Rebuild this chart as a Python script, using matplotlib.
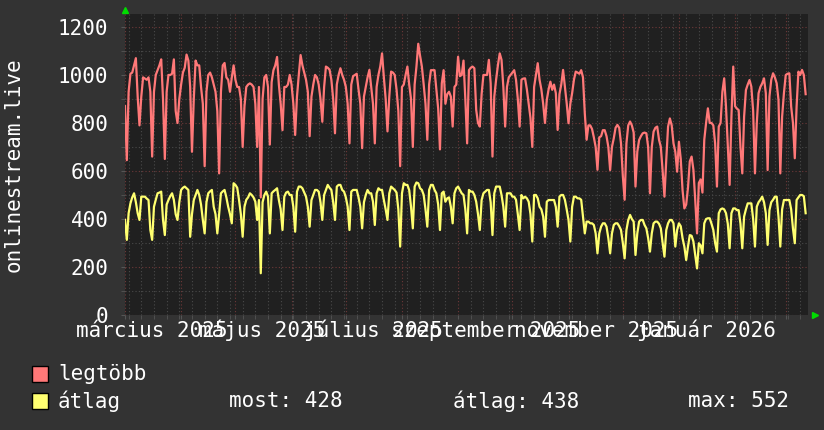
import numpy as np
import matplotlib
matplotlib.use("Agg")
import matplotlib.pyplot as plt
import matplotlib.dates as mdates
import matplotlib.transforms as mtransforms
from matplotlib.patches import Rectangle

# ===== adatok (napi értékek 2025-03-01-től) =====
start = np.datetime64("2025-03-01")

legtobb = [
    870, 645, 930, 1005, 1010, 1040, 1070, 910, 790, 910,
    990, 985, 980, 990, 930, 660, 930, 1000, 1020, 1040,
    1065, 900, 650, 930, 1000, 1000, 1005, 1065, 850, 800,
    900, 960, 1010, 1030, 1085, 1060, 950, 680, 900, 1060,
    1040, 1040, 950, 880, 620, 930, 1000, 1010, 990, 960,
    930, 850, 590, 930, 1040, 1050, 990, 980, 930, 990,
    1040, 980, 950, 950, 900, 700, 870, 950, 960, 965,
    960, 950, 880, 700, 950, 490, 900, 990, 1000, 950,
    710, 970, 1020, 1040, 1075, 960, 880, 770, 950, 950,
    960, 1000, 960, 880, 750, 910, 1000, 1083, 1040, 1010,
    980, 930, 745, 910, 960, 1000, 990, 960, 900, 805,
    950, 1035, 1030, 1022, 980, 900, 757, 960, 1000, 1028,
    1000, 980, 950, 880, 715, 960, 995, 1000, 1005, 940,
    880, 695, 910, 950, 990, 1021, 950, 880, 715, 950,
    1000, 1035, 1090, 990, 900, 765, 910, 1014, 1010, 1000,
    940, 850, 620, 950, 960, 1000, 1035, 960, 900, 700,
    960, 1035, 1130, 1080, 1035, 960, 880, 730, 960, 1020,
    1020, 1020, 940, 860, 690, 965, 1020, 880, 920, 930,
    910, 785, 950, 960, 1076, 995, 1000, 1060, 900, 715,
    1020, 1030, 1035, 1028, 855, 800, 785, 920, 1000, 1000,
    1000, 1063, 965, 660, 910, 980, 1040, 1090, 1063, 950,
    785, 950, 990, 1000, 1010, 1020, 980, 900, 785, 980,
    985, 986, 940, 880, 820, 700, 950, 1000, 1049, 980,
    940, 880, 800, 896, 940, 972, 938, 960, 924, 771,
    920, 960, 1021, 950, 882, 799, 880, 924, 980, 1014,
    1010, 1005, 1020, 990, 840, 730, 790, 790, 775, 740,
    700, 605, 740, 745, 770, 770, 745, 700, 604, 700,
    736, 780, 792, 780, 715, 580, 480, 715, 790, 806,
    790, 760, 535, 680, 729, 745, 757, 760, 757, 700,
    507, 700, 764, 780, 785, 730, 700, 600, 493, 646,
    785, 819, 790, 715, 680, 597, 722, 650, 520, 444,
    460, 530, 640, 660, 605, 480, 340, 550, 565, 510,
    730, 800, 861, 800, 800, 790, 715, 535, 785, 800,
    930, 986, 868, 701, 542, 826, 1035, 870, 860, 854,
    700, 590, 826, 937, 960, 979, 951, 850, 590, 799,
    924, 950, 965, 986, 924, 604, 910, 980, 1007, 990,
    965, 896, 590, 826, 924, 1000, 1005, 1007, 868, 800,
    653, 868, 1014, 1000, 1021, 1000, 920,
]

atlag = [
    396, 313, 424, 465, 490, 507, 470, 424, 396, 493,
    493, 493, 485, 479, 354, 313, 451, 480, 507, 510,
    514, 396, 333, 460, 479, 495, 507, 479, 420, 396,
    470, 521, 530, 535, 528, 521, 326, 420, 479, 500,
    521, 500, 460, 396, 340, 470, 507, 515, 521, 451,
    420, 340, 420, 507, 515, 521, 490, 451, 420, 382,
    549, 542, 530, 479, 420, 326, 451, 480, 490, 507,
    500, 490, 472, 396, 479, 174, 470, 500, 514, 493,
    340, 507, 515, 521, 528, 479, 440, 354, 493, 510,
    514, 500, 500, 450, 347, 514, 535, 535, 528, 510,
    493, 450, 368, 479, 500, 521, 521, 514, 470, 396,
    500, 521, 542, 530, 521, 470, 396, 535, 542, 542,
    521, 514, 490, 451, 354, 514, 521, 521, 521, 490,
    451, 361, 470, 500, 521, 507, 507, 472, 375, 507,
    528, 521, 521, 479, 440, 396, 507, 535, 528, 521,
    510, 440, 285, 507, 549, 542, 542, 520, 451, 361,
    535, 552, 549, 528, 521, 500, 440, 368, 521, 542,
    542, 521, 507, 460, 354, 507, 514, 472, 486, 490,
    451, 382, 507, 528, 535, 521, 507, 500, 440, 340,
    521, 514, 514, 500, 472, 420, 354, 479, 507, 514,
    521, 521, 470, 333, 507, 535, 535, 535, 500, 451,
    368, 507, 507, 507, 493, 493, 480, 420, 354, 500,
    486, 493, 486, 472, 420, 306, 500, 500, 486, 451,
    440, 410, 326, 472, 479, 479, 479, 479, 450, 368,
    493, 500, 500, 480, 440, 396, 306, 451, 493, 493,
    486, 486, 480, 410, 340, 389, 389, 382, 382, 375,
    340, 257, 340, 368, 382, 382, 368, 320, 257, 340,
    375, 382, 382, 370, 354, 300, 236, 354, 396, 417,
    400, 389, 250, 340, 389, 396, 396, 375, 361, 320,
    264, 340, 382, 389, 389, 380, 361, 300, 243, 354,
    382, 396, 396, 382, 285, 354, 382, 370, 320, 285,
    229, 285, 333, 330, 306, 250, 194, 299, 290, 257,
    382, 400, 403, 403, 380, 354, 300, 264, 424, 440,
    444, 440, 424, 380, 278, 424, 444, 444, 437, 437,
    380, 278, 410, 440, 465, 465, 465, 400, 285, 451,
    470, 480, 493, 470, 424, 292, 437, 470, 480, 493,
    493, 410, 285, 440, 479, 479, 479, 479, 440, 360,
    299, 479, 490, 500, 500, 495, 424,
]

honap_hatarok = ["2025-03-01", "2025-04-01", "2025-05-01", "2025-06-01", "2025-07-01",
                 "2025-08-01", "2025-09-01", "2025-10-01", "2025-11-01", "2025-12-01",
                 "2026-01-01", "2026-02-01", "2026-03-01"]
cimke_helyek = ["2025-03-16", "2025-05-16", "2025-07-16", "2025-09-16", "2025-11-16", "2026-01-16"]
cimkek = ["március 2025", "május 2025", "július 2025", "szeptember 2025", "november 2025", "január 2026"]
y_ticks = [0, 200, 400, 600, 800, 1000, 1200]

most, atl, mx = 428, 438, 552

# ===== stílus =====
plt.rcParams["font.family"] = ["DejaVu Sans Mono"]
BG = "#333333"
CANVAS = "#202020"
PIROS = "#ff7878"
SARGA = "#ffff70"
MINOR = "#4a4a4a"
MAJOR = "#6e3838"

W, H = 824, 430
fig = plt.figure(figsize=(W / 100, H / 100), dpi=100, facecolor=BG)
ax = fig.add_axes([125 / W, 115 / H, 683 / W, 301 / H])
ax.set_facecolor(CANVAS)

napok = start + np.arange(len(legtobb)).astype("timedelta64[D]")
ax.plot(napok, legtobb, color=PIROS, lw=1.6, zorder=3)
ax.plot(napok, atlag, color=SARGA, lw=1.6, zorder=3)

x0 = mdates.date2num(start)
ax.set_xlim(x0, x0 + 377.3)
ax.set_ylim(0, 1254)

# rácsvonalak
ax.set_xticks([mdates.date2num(np.datetime64(d)) for d in honap_hatarok])
ax.xaxis.set_minor_locator(mdates.WeekdayLocator(byweekday=mdates.MO))
ax.set_yticks(y_ticks)
ax.set_yticks(range(100, 1300, 100), minor=True)
ax.grid(which="minor", color=MINOR, lw=0.8, ls=(0, (1, 2)), zorder=1)
ax.grid(which="major", color=MAJOR, lw=0.8, ls=(0, (1, 2)), zorder=1)
ax.set_axisbelow(True)

ax.set_xticklabels([])
ax.tick_params(axis="x", which="both", length=3, color="#555555")
ax.tick_params(axis="y", which="major", length=3, color="#555555", pad=9,
               labelsize=15, labelcolor="white")
ax.tick_params(axis="y", which="minor", length=3, color="#555555")
for s in ax.spines.values():
    s.set_visible(False)

# hónap feliratok (a hónap közepére igazítva, közös alapvonalon)
trans = mtransforms.blended_transform_factory(ax.transData, ax.transAxes)
for d, t in zip(cimke_helyek, cimkek):
    ax.text(mdates.date2num(np.datetime64(d)), -22 / 301, t, ha="center", va="baseline",
            fontsize=15, color="white", clip_on=False, transform=trans)

fig.text(4 / W, 1 - 165 / H, "onlinestream.live", rotation=90, fontsize=15,
         color="white", ha="left", va="center")

# zöld nyilak
fig.lines.append(plt.Line2D([125 / W], [1 - 10 / H], marker="^", ms=5, color="#00dd00",
                            transform=fig.transFigure))
fig.lines.append(plt.Line2D([815 / W], [115 / H], marker=">", ms=5, color="#00dd00",
                            transform=fig.transFigure))

# jelmagyarázat
for yc, c, name in [(374, PIROS, "legtöbb"), (401, SARGA, "átlag")]:
    fig.patches.append(Rectangle((32 / W, 1 - (yc + 8) / H), 16 / W, 16 / H,
                                 transform=fig.transFigure, facecolor=c,
                                 edgecolor="black", lw=1))
    fig.text(58 / W, 1 - yc / H, name, fontsize=15, color="white", va="center")

fig.text(229 / W, 1 - 401 / H, f"most: {most}", fontsize=15, color="white", va="center")
fig.text(453 / W, 1 - 401 / H, f"átlag: {atl}", fontsize=15, color="white", va="center")
fig.text(688 / W, 1 - 401 / H, f"max: {mx}", fontsize=15, color="white", va="center")

fig.savefig("out.png", dpi=100, facecolor=BG)
